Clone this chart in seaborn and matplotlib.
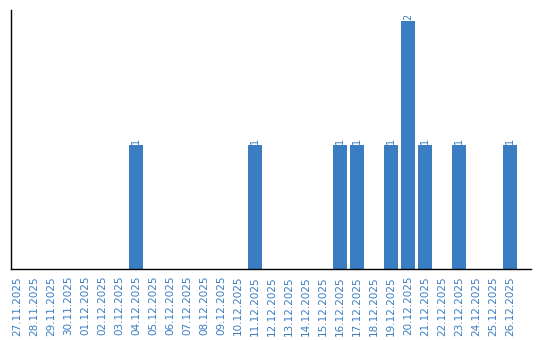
import matplotlib
matplotlib.use("Agg")
import matplotlib.pyplot as plt
import seaborn as sns
import pandas as pd

dates = ["27.11.2025", "28.11.2025", "29.11.2025", "30.11.2025", "01.12.2025",
         "02.12.2025", "03.12.2025", "04.12.2025", "05.12.2025", "06.12.2025",
         "07.12.2025", "08.12.2025", "09.12.2025", "10.12.2025", "11.12.2025",
         "12.12.2025", "13.12.2025", "14.12.2025", "15.12.2025", "16.12.2025",
         "17.12.2025", "18.12.2025", "19.12.2025", "20.12.2025", "21.12.2025",
         "22.12.2025", "23.12.2025", "24.12.2025", "25.12.2025", "26.12.2025"]
counts = [0, 0, 0, 0, 0, 0, 0, 1, 0, 0,
          0, 0, 0, 0, 1, 0, 0, 0, 0, 1,
          1, 0, 1, 2, 1, 0, 1, 0, 0, 1]

df = pd.DataFrame({"date": dates, "count": counts})

sns.set_style("white")
plt.rcParams['font.family'] = ['DejaVu Sans']

BLUE = "#3a7dc2"
fig = plt.figure(figsize=(5.4, 3.4), dpi=100)
ax = fig.add_axes([11/540, 71/340, 520/540, 259/340])

sns.barplot(data=df, x="date", y="count", color=BLUE, saturation=1, width=0.82,
            linewidth=0, edgecolor="none", ax=ax)

for c in ax.containers:
    labels = [str(int(v)) if v > 0 else "" for v in c.datavalues]
    ax.bar_label(c, labels=labels, rotation=90, fontsize=7, color=BLUE, padding=1)

ax.set_xlim(-0.36, 30.22)
ax.set_ylim(0, 2.09)
ax.set_xlabel("")
ax.set_ylabel("")
ax.set_yticks([])
ax.tick_params(axis="x", labelrotation=90, labelsize=7.5, labelcolor=BLUE, length=0, pad=5)
for s in ["top", "right"]:
    ax.spines[s].set_visible(False)
for s in ["left", "bottom"]:
    ax.spines[s].set_color("black")
    ax.spines[s].set_linewidth(1.0)

fig.savefig("out.png", dpi=100)
